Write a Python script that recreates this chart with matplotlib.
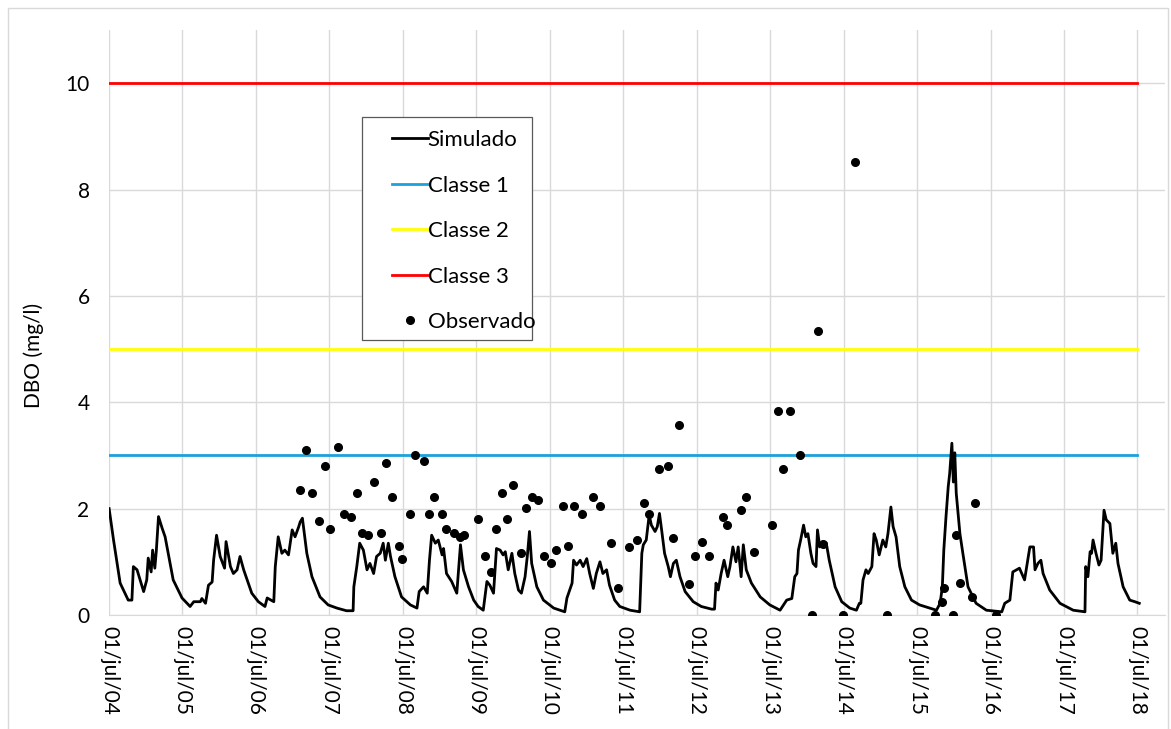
import numpy as np
import pandas as pd
import matplotlib
matplotlib.use("Agg")
import matplotlib.pyplot as plt
from matplotlib.patches import Rectangle

plt.rcParams['font.family'] = ['Lato', 'DejaVu Sans']

# ============================
# Dados (tempo em ano decimal)
# ============================

# DBO simulada
sim_t = [
    2004.50, 2004.56, 2004.65, 2004.76, 2004.81, 2004.83, 2004.88, 2004.97, 2005.01, 2005.03,
    2005.07, 2005.09, 2005.12, 2005.14, 2005.17, 2005.22, 2005.26, 2005.37, 2005.49, 2005.60,
    2005.65, 2005.74, 2005.76, 2005.81, 2005.85, 2005.90, 2005.92, 2005.96, 2006.01, 2006.07,
    2006.09, 2006.15, 2006.19, 2006.24, 2006.28, 2006.33, 2006.44, 2006.53, 2006.62, 2006.65,
    2006.74, 2006.76, 2006.80, 2006.85, 2006.89, 2006.94, 2006.99, 2007.03, 2007.08, 2007.10,
    2007.13, 2007.19, 2007.26, 2007.37, 2007.48, 2007.60, 2007.73, 2007.82, 2007.83, 2007.87,
    2007.91, 2007.96, 2008.01, 2008.05, 2008.10, 2008.14, 2008.19, 2008.23, 2008.26, 2008.30,
    2008.33, 2008.39, 2008.48, 2008.60, 2008.69, 2008.72, 2008.78, 2008.83, 2008.86, 2008.89,
    2008.94, 2008.98, 2009.03, 2009.05, 2009.09, 2009.16, 2009.23, 2009.28, 2009.32, 2009.39,
    2009.46, 2009.52, 2009.59, 2009.64, 2009.68, 2009.73, 2009.77, 2009.82, 2009.86, 2009.89,
    2009.93, 2009.98, 2010.02, 2010.07, 2010.11, 2010.16, 2010.19, 2010.22, 2010.25, 2010.32,
    2010.41, 2010.55, 2010.70, 2010.73, 2010.80, 2010.82, 2010.86, 2010.91, 2010.95, 2011.00,
    2011.04, 2011.09, 2011.13, 2011.18, 2011.22, 2011.27, 2011.31, 2011.38, 2011.45, 2011.59,
    2011.72, 2011.75, 2011.77, 2011.81, 2011.85, 2011.88, 2011.93, 2011.96, 2011.99, 2012.02,
    2012.06, 2012.11, 2012.14, 2012.18, 2012.22, 2012.27, 2012.34, 2012.45, 2012.56, 2012.70,
    2012.74, 2012.76, 2012.79, 2012.83, 2012.87, 2012.92, 2012.95, 2012.99, 2013.03, 2013.06,
    2013.10, 2013.13, 2013.17, 2013.24, 2013.36, 2013.49, 2013.63, 2013.72, 2013.79, 2013.83,
    2013.86, 2013.88, 2013.91, 2013.95, 2013.98, 2014.01, 2014.05, 2014.08, 2014.12, 2014.14,
    2014.17, 2014.21, 2014.26, 2014.30, 2014.38, 2014.47, 2014.58, 2014.67, 2014.71, 2014.73,
    2014.76, 2014.80, 2014.83, 2014.88, 2014.91, 2014.94, 2014.98, 2015.03, 2015.07, 2015.10,
    2015.14, 2015.17, 2015.21, 2015.26, 2015.33, 2015.42, 2015.53, 2015.67, 2015.76, 2015.81,
    2015.84, 2015.86, 2015.89, 2015.92, 2015.94, 2015.97, 2015.99, 2016.01, 2016.03, 2016.08,
    2016.12, 2016.19, 2016.30, 2016.44, 2016.65, 2016.69, 2016.76, 2016.80, 2016.85, 2016.89,
    2016.96, 2017.03, 2017.08, 2017.10, 2017.14, 2017.18, 2017.21, 2017.30, 2017.44, 2017.62,
    2017.78, 2017.79, 2017.82, 2017.85, 2017.87, 2017.89, 2017.93, 2017.97, 2018.00, 2018.04,
    2018.07, 2018.12, 2018.16, 2018.20, 2018.23, 2018.30, 2018.39, 2018.46, 2018.52,
]
sim_dbo = [
    2.00, 1.41, 0.60, 0.28, 0.28, 0.91, 0.85, 0.44, 0.66, 1.07,
    0.81, 1.22, 0.88, 1.20, 1.85, 1.63, 1.47, 0.66, 0.32, 0.16,
    0.25, 0.25, 0.31, 0.22, 0.56, 0.62, 1.03, 1.50, 1.10, 0.88,
    1.38, 0.91, 0.78, 0.85, 1.10, 0.85, 0.41, 0.25, 0.16, 0.32,
    0.25, 0.91, 1.47, 1.16, 1.22, 1.13, 1.60, 1.47, 1.66, 1.75,
    1.82, 1.16, 0.72, 0.34, 0.19, 0.13, 0.08, 0.08, 0.53, 0.91,
    1.35, 1.22, 0.85, 0.97, 0.78, 1.10, 1.16, 1.35, 1.03, 1.35,
    1.10, 0.72, 0.34, 0.19, 0.13, 0.44, 0.53, 0.41, 1.03, 1.50,
    1.35, 1.41, 1.13, 1.25, 0.78, 0.63, 0.41, 1.32, 0.85, 0.53,
    0.28, 0.16, 0.09, 0.63, 0.56, 0.41, 1.25, 1.22, 1.13, 1.19,
    0.85, 1.16, 0.78, 0.47, 0.41, 0.72, 1.10, 1.57, 0.97, 0.53,
    0.28, 0.13, 0.06, 0.32, 0.60, 1.03, 0.94, 1.03, 0.91, 1.06,
    0.78, 0.50, 0.78, 1.00, 0.78, 0.85, 0.56, 0.28, 0.16, 0.09,
    0.06, 1.16, 1.32, 1.41, 1.88, 1.69, 1.57, 1.66, 1.91, 1.60,
    1.16, 0.91, 0.72, 0.97, 1.03, 0.72, 0.44, 0.25, 0.16, 0.11,
    0.11, 0.60, 0.47, 0.78, 1.03, 0.72, 0.91, 1.28, 1.00, 1.28,
    0.72, 1.32, 0.85, 0.60, 0.34, 0.19, 0.09, 0.28, 0.31, 0.72,
    0.78, 1.22, 1.41, 1.69, 1.47, 1.53, 1.16, 0.97, 0.91, 1.60,
    1.28, 1.38, 1.35, 1.03, 0.53, 0.25, 0.13, 0.09, 0.22, 0.22,
    0.66, 0.85, 0.78, 0.91, 1.53, 1.41, 1.13, 1.41, 1.28, 1.53,
    2.03, 1.66, 1.47, 0.91, 0.53, 0.28, 0.19, 0.13, 0.09, 0.22,
    0.53, 1.22, 1.85, 2.41, 2.66, 3.23, 2.50, 3.05, 2.29, 1.53,
    1.16, 0.53, 0.22, 0.09, 0.06, 0.22, 0.28, 0.81, 0.85, 0.88,
    0.66, 1.28, 1.28, 0.85, 0.97, 1.03, 0.78, 0.47, 0.22, 0.09,
    0.06, 0.91, 0.72, 1.19, 1.16, 1.41, 1.16, 0.94, 1.03, 1.97,
    1.79, 1.72, 1.16, 1.35, 0.97, 0.53, 0.28, 0.25, 0.22,
]

# DBO observada
obs_t = [
    2007.10, 2007.18, 2007.26, 2007.36, 2007.44, 2007.51, 2007.62, 2007.70, 2007.79, 2007.87,
    2007.94, 2008.02, 2008.10, 2008.20, 2008.27, 2008.35, 2008.45, 2008.49, 2008.60, 2008.67,
    2008.78, 2008.85, 2008.92, 2009.03, 2009.08, 2009.19, 2009.28, 2009.33, 2009.52, 2009.61,
    2009.69, 2009.76, 2009.85, 2009.92, 2009.99, 2010.10, 2010.17, 2010.25, 2010.34, 2010.42,
    2010.51, 2010.58, 2010.68, 2010.75, 2010.83, 2010.93, 2011.08, 2011.18, 2011.33, 2011.43,
    2011.58, 2011.69, 2011.78, 2011.85, 2011.99, 2012.11, 2012.18, 2012.25, 2012.39, 2012.47,
    2012.57, 2012.66, 2012.86, 2012.91, 2013.10, 2013.16, 2013.27, 2013.52, 2013.60, 2013.67,
    2013.77, 2013.90, 2014.07, 2014.15, 2014.22, 2014.49, 2014.65, 2015.09, 2015.74, 2015.83,
    2015.86, 2015.99, 2016.02, 2016.08, 2016.25, 2016.29, 2016.57,
]
obs_dbo = [
    2.35, 3.11, 2.30, 1.77, 2.80, 1.61, 3.16, 1.90, 1.85, 2.30,
    1.55, 1.50, 2.51, 1.55, 2.85, 2.21, 1.30, 1.05, 1.90, 3.01,
    2.90, 1.90, 2.21, 1.90, 1.61, 1.55, 1.46, 1.50, 1.80, 1.11,
    0.81, 1.61, 2.29, 1.80, 2.45, 1.16, 2.02, 2.21, 2.16, 1.11,
    0.98, 1.22, 2.05, 1.30, 2.05, 1.90, 2.22, 2.05, 1.35, 0.50,
    1.27, 1.41, 2.11, 1.90, 2.74, 2.80, 1.45, 3.58, 0.58, 1.11,
    1.38, 1.11, 1.84, 1.69, 1.97, 2.21, 1.19, 1.69, 3.84, 2.74,
    3.84, 3.01, 0.00, 5.34, 1.33, 0.00, 8.52, 0.00, 0.00, 0.25,
    0.50, 0.00, 1.50, 0.61, 0.33, 2.11, 0.00,
]

# Limites das classes (mg/l)
classes = ["Classe 1", "Classe 2", "Classe 3"]
limites = [3, 5, 10]
cores_classes = ["#1ba1dc", "#ffff00", "#ff0000"]

anos_ticks = list(range(2004, 2019))


def ano_para_data(t):
    ano = int(t)
    return pd.Timestamp(ano, 1, 1) + pd.Timedelta(days=(t - ano) * 365.25)


datas_sim = [ano_para_data(t) for t in sim_t]
datas_obs = [ano_para_data(t) for t in obs_t]

# ============================
# Gráfico
# ============================

fig = plt.figure(figsize=(11.71, 7.29), dpi=100)
ax = fig.add_axes([109 / 1171, 1 - 615 / 729, (1165 - 109) / 1171, 585 / 729])

ax.plot(datas_sim, sim_dbo, color="black", lw=2.0, label="Simulado", zorder=3)
inicio, fim = pd.Timestamp(2004, 7, 1), pd.Timestamp(2018, 7, 1)
for nome, lim, cor in zip(classes, limites, cores_classes):
    ax.plot([inicio, fim], [lim, lim], color=cor, lw=2.0, label=nome, zorder=2)
ax.plot(datas_obs, obs_dbo, "o", color="black", ms=5.5, label="Observado", zorder=4)

ax.set_xlim(inicio, ano_para_data(2018.87))
ax.set_ylim(0, 11)
ax.set_yticks(range(0, 11, 2))
ax.set_xticks([pd.Timestamp(a, 7, 1) for a in anos_ticks])
ax.set_xticklabels([f"01/jul/{a % 100:02d}" for a in anos_ticks], rotation=-90)
ax.tick_params(axis="both", length=0, labelsize=15, colors="#000000")
ax.tick_params(axis="x", pad=8)
ax.tick_params(axis="y", pad=14)

ax.grid(True, color="#d9d9d9", lw=1.0)
ax.set_axisbelow(True)
for s in ["top", "right", "left"]:
    ax.spines[s].set_visible(False)
ax.spines["bottom"].set_color("#d9d9d9")

ax.set_ylabel("DBO (mg/l)", fontsize=15)
ax.yaxis.set_label_coords(-0.062, 260 / 585)

# caixa da legenda
caixa = Rectangle((362 / 1171, 1 - 340 / 729), 170 / 1171, 223 / 729,
                  transform=fig.transFigure, facecolor="white",
                  edgecolor="#595959", lw=0.9, zorder=5)
ax.add_patch(caixa)
caixa.set_clip_on(False)

leg = ax.legend(loc="upper left", bbox_to_anchor=(392 / 1171, 1 - 130 / 729),
                bbox_transform=fig.transFigure, frameon=False, fontsize=16,
                borderpad=0, borderaxespad=0, handlelength=1.6,
                handletextpad=0.0, labelspacing=1.15, numpoints=1)
leg.set_zorder(6)

# borda da área do gráfico
fig.patches.append(Rectangle((8 / 1171, -0.05), 1160 / 1171, 1.05 - 8 / 729,
                             transform=fig.transFigure, fill=False,
                             edgecolor="#d9d9d9", lw=1.0))

fig.savefig("out.png", dpi=100)
